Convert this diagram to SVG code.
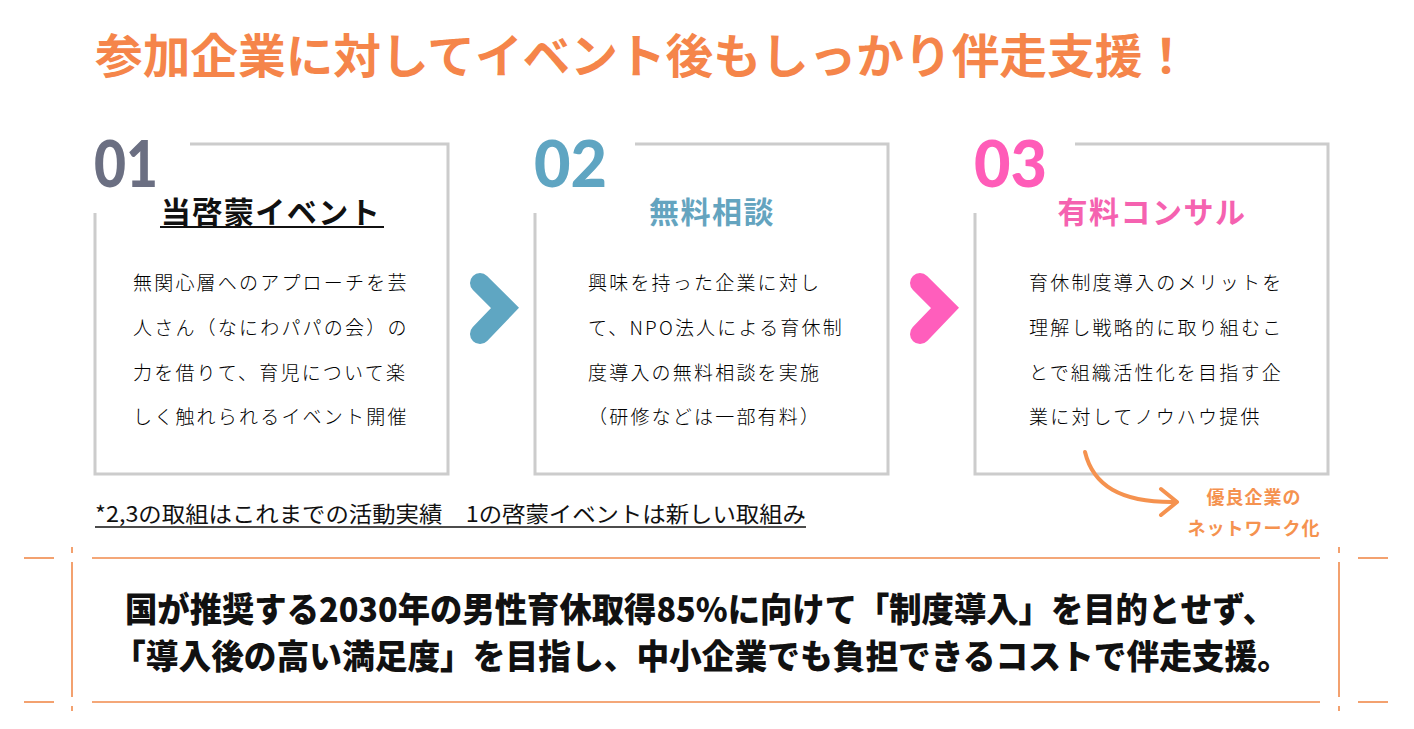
<svg xmlns="http://www.w3.org/2000/svg" width="1414" height="729" viewBox="0 0 1414 729">
<style>
.frame{fill:none;stroke:#cccccc;stroke-width:3}
.num{font-family:Lato,"Noto Sans",sans-serif;font-weight:900;font-size:64px}
.ttl{font-family:"Noto Sans CJK JP",sans-serif;font-weight:700;font-size:30px;letter-spacing:1.5px}
.body{font-family:"Noto Sans CJK JP",sans-serif;font-weight:300;font-size:19px;letter-spacing:2.2px;fill:#000}
.big{font-family:"Noto Sans CJK JP",sans-serif;font-weight:900;fill:#111}
.org{fill:none;stroke:#f08a4b;stroke-width:1.6}
</style>
<rect width="1414" height="729" fill="#ffffff"/>
<text x="95" y="73" font-family="Noto Sans CJK JP, sans-serif" font-weight="700" font-size="47" fill="#f5854a" textLength="1095" lengthAdjust="spacingAndGlyphs">参加企業に対してイベント後もしっかり伴走支援！</text>

<g id="step1">
<path class="frame" d="M190,144 H448 V474 H95 V213"/>
<text class="num" x="94" y="187" fill="#6b6f82" textLength="64" lengthAdjust="spacingAndGlyphs">01</text>
<text class="ttl" x="271" y="223" text-anchor="middle" fill="#111">当啓蒙イベント</text>
<line x1="160" y1="227" x2="384" y2="227" stroke="#111" stroke-width="2"/>
<text class="body" x="133" y="290">無関心層へのアプローチを芸</text>
<text class="body" x="133" y="335">人さん（なにわパパの会）の</text>
<text class="body" x="133" y="380">力を借りて、育児について楽</text>
<text class="body" x="133" y="424">しく触れられるイベント開催</text>
</g>

<g id="step2">
<path class="frame" d="M635,144 H888 V474 H535 V213"/>
<text class="num" x="534" y="187" fill="#5fa5c2" textLength="73" lengthAdjust="spacingAndGlyphs">02</text>
<text class="ttl" x="712" y="223" text-anchor="middle" fill="#64a4bf">無料相談</text>
<text class="body" x="588" y="290">興味を持った企業に対し</text>
<text class="body" x="588" y="335">て、NPO法人による育休制</text>
<text class="body" x="588" y="380">度導入の無料相談を実施</text>
<text class="body" x="588" y="424">（研修などは一部有料）</text>
</g>

<g id="step3">
<path class="frame" d="M1075,144 H1328 V474 H975 V213"/>
<text class="num" x="974" y="187" fill="#ff5cb8" textLength="73" lengthAdjust="spacingAndGlyphs">03</text>
<text class="ttl" x="1152" y="223" text-anchor="middle" fill="#f562b0">有料コンサル</text>
<text class="body" x="1029" y="290">育休制度導入のメリットを</text>
<text class="body" x="1029" y="335">理解し戦略的に取り組むこ</text>
<text class="body" x="1029" y="380">とで組織活性化を目指す企</text>
<text class="body" x="1029" y="424">業に対してノウハウ提供</text>
</g>

<g id="network">
<text x="1254" y="504" text-anchor="middle" font-family="Noto Sans CJK JP, sans-serif" font-weight="700" font-size="18" fill="#f5924f" letter-spacing="1">優良企業の</text>
<text x="1254" y="535" text-anchor="middle" font-family="Noto Sans CJK JP, sans-serif" font-weight="700" font-size="18" fill="#f5924f" letter-spacing="1">ネットワーク化</text>
</g>

<g id="connectors">
<polyline points="480,283 505,308 480,334" fill="none" stroke="#5fa6c2" stroke-width="20" stroke-linecap="round" stroke-linejoin="miter"/>
<polyline points="920,283 945,308 920,334" fill="none" stroke="#ff5ebc" stroke-width="20" stroke-linecap="round" stroke-linejoin="miter"/>
<path d="M1085,452 C1093,485 1120,503 1176,502" fill="none" stroke="#f5924f" stroke-width="4" stroke-linecap="round"/>
<polyline points="1161,489 1177,502 1161,515" fill="none" stroke="#f5924f" stroke-width="4" stroke-linecap="round" stroke-linejoin="round"/>
</g>

<text x="95" y="522" font-family="Noto Sans CJK JP, sans-serif" font-size="22" fill="#111" textLength="711" lengthAdjust="spacingAndGlyphs">*2,3の取組はこれまでの活動実績　1の啓蒙イベントは新しい取組み</text>
<line x1="95" y1="527" x2="806" y2="527" stroke="#111" stroke-width="1.5"/>

<g id="summary">
<line class="org" x1="24" y1="558" x2="54" y2="558"/>
<line class="org" x1="92" y1="558" x2="1320" y2="558"/>
<line class="org" x1="1358" y1="558" x2="1388" y2="558"/>
<line class="org" x1="24" y1="702" x2="54" y2="702"/>
<line class="org" x1="92" y1="702" x2="1320" y2="702"/>
<line class="org" x1="1358" y1="702" x2="1388" y2="702"/>
<line class="org" x1="72" y1="547" x2="72" y2="553"/>
<line class="org" x1="72" y1="562" x2="72" y2="697"/>
<line class="org" x1="72" y1="706" x2="72" y2="711"/>
<line class="org" x1="1339" y1="547" x2="1339" y2="553"/>
<line class="org" x1="1339" y1="562" x2="1339" y2="697"/>
<line class="org" x1="1339" y1="706" x2="1339" y2="711"/>
<text class="big" x="125" y="622" font-size="34" textLength="1150" lengthAdjust="spacingAndGlyphs">国が推奨する2030年の男性育休取得85%に向けて「制度導入」を目的とせず、</text>
<text class="big" x="113" y="669" font-size="34" textLength="1177" lengthAdjust="spacingAndGlyphs">「導入後の高い満足度」を目指し、中小企業でも負担できるコストで伴走支援。</text>
</g>
</svg>
